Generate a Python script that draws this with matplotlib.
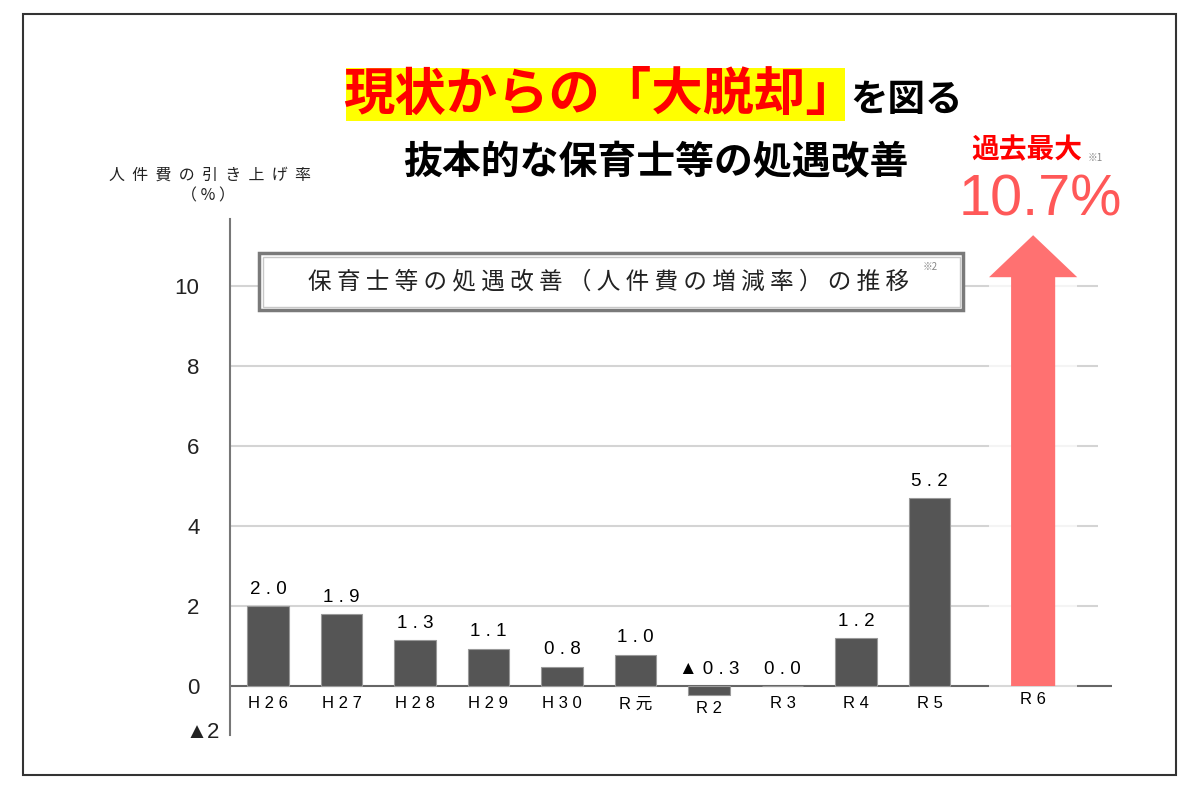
import matplotlib

matplotlib.use("Agg")
import matplotlib.pyplot as plt
from matplotlib.patches import FancyArrow, Rectangle

# data
CATS = ["H26", "H27", "H28", "H29", "H30", "R元", "R2", "R3", "R4", "R5"]
BAR_H = [2.0, 1.8, 1.15, 0.93, 0.48, 0.78, -0.22, 0.0, 1.2, 4.7]
BAR_LBL = ["2.0", "1.9", "1.3", "1.1", "0.8", "1.0", "▲0.3", "0.0", "1.2", "5.2"]
R6_CAT = "R6"
R6_TIP = 11.27  # top of the red arrow
YTICKS = [0, 2, 4, 6, 8, 10]

JP = ["Noto Sans CJK JP", "DejaVu Sans"]
LAT = ["Liberation Sans", "Noto Sans CJK JP", "DejaVu Sans"]
INK, BAR, RED, PINK = "#222222", "#555555", "#ff0000", "#ff7171"


def sp(s, gap=" "):
    return gap.join(s)


fig = plt.figure(figsize=(12, 8), dpi=100)
ax = fig.add_axes([230 / 1200, 65 / 800, 882 / 1200, 516 / 800])
ax.set_xlim(-0.517, 11.483)
ax.set_ylim(-1.225, 11.675)
for k in ("top", "right", "bottom"):
    ax.spines[k].set_visible(False)
ax.spines["left"].set_color("#777777")
ax.spines["left"].set_linewidth(1.5)
ax.set_xticks([])
ax.set_yticks(YTICKS)
ax.set_yticklabels([str(v) for v in YTICKS], family=LAT, fontsize=16, color=INK)
ax.tick_params(axis="y", length=0, pad=22)

ax.hlines(YTICKS[1:], -0.517, 11.29, color="#d4d4d4", lw=1.5, zorder=1)
ax.axhline(0, color="#666666", lw=1.5, zorder=2)

xs = list(range(len(CATS)))
ax.bar(xs, BAR_H, width=0.571, color=BAR, edgecolor="#999999", lw=0.8, zorder=3)
for x, h, c, lab in zip(xs, BAR_H, CATS, BAR_LBL):
    ax.text(x, max(h, 0) + 0.42, sp(lab), ha="center", va="center",
            family=LAT, fontsize=13.5, color="black", zorder=5)
    ax.text(x, -0.45 + min(h, 0) * 0.5, sp(c), ha="center", va="center",
            family=LAT, fontsize=12, color="black", zorder=5)

# R6: the big arrow
x6 = len(CATS) + 0.41
ax.add_patch(Rectangle((x6 - 0.6, -0.1), 1.2, 10.4, fc="white", ec="none", alpha=0.75, zorder=2.5))
ax.add_patch(FancyArrow(x6, 0, 0, R6_TIP, width=0.6, head_width=1.2, head_length=1.05,
                        length_includes_head=True, color=PINK, lw=0, zorder=4))
ax.text(x6, -0.33, sp(R6_CAT), ha="center", va="center", family=LAT, fontsize=12, color="black", zorder=5)

# overlay in pixel coordinates for titles and boxes
ov = fig.add_axes([0, 0, 1, 1])
ov.set_xlim(0, 1200)
ov.set_ylim(800, 0)
ov.axis("off")
ov.patch.set_alpha(0)

ov.add_patch(Rectangle((23, 14), 1153, 761, fc="none", ec="#333333", lw=1.5))
ov.add_patch(Rectangle((346, 68), 499, 53, fc="#ffff00", ec="none"))
ov.text(600, 94, "現状からの「大脱却」", ha="center", va="center", family=JP,
        fontsize=37, fontweight="bold", color=RED)
ov.text(850, 100, "を図る", ha="left", va="center", family=JP, fontsize=27, fontweight="bold", color="black")
ov.text(656, 163, "抜本的な保育士等の処遇改善", ha="center", va="center", family=JP,
        fontsize=28, fontweight="bold", color="black")

ov.text(210, 175, sp("人件費の引き上げ率", "  "), ha="center", va="center", family=JP, fontsize=11.5, color=INK)
ov.text(208, 196, sp("（%）"), ha="center", va="center", family=JP, fontsize=11.5, color=INK)

ov.text(1027, 150, "過去最大", ha="center", va="center", family=JP, fontsize=20, fontweight="bold", color=RED)
ov.text(1095, 158, "※1", ha="center", va="center", family=JP, fontsize=7, color="#888888")
ov.text(1040, 200, "10.7%", ha="center", va="center", family=LAT, fontsize=41.5, color="#ff5858")

ov.add_patch(Rectangle((259, 253), 704, 57, fc="white", ec="#7a7a7a", lw=2.5, zorder=3))
ov.add_patch(Rectangle((262.5, 256.5), 697, 50, fc="none", ec="#c8c8c8", lw=1, zorder=3))
ov.text(609, 282, sp("保育士等の処遇改善（人件費の増減率）の推移"), ha="center", va="center",
        family=JP, fontsize=17, color=INK, zorder=4)
ov.text(930, 267, "※2", ha="center", va="center", family=JP, fontsize=7, color="#888888", zorder=4)

ov.text(220, 733, "▲2", ha="right", va="center", family=LAT, fontsize=16, color=INK)

fig.savefig("out.png", dpi=100, facecolor="white")
